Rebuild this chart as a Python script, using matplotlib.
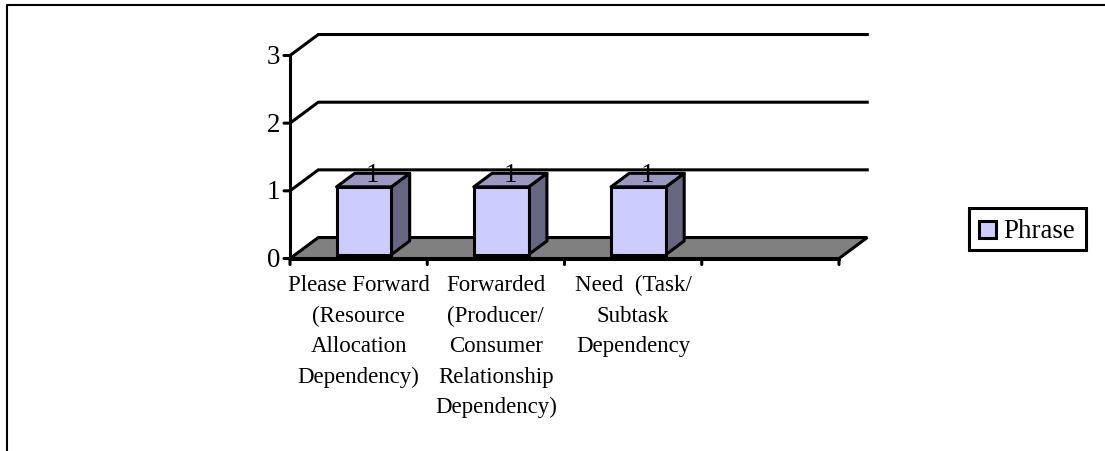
import matplotlib
matplotlib.use("Agg")
import matplotlib.pyplot as plt
from matplotlib.patches import Polygon, Rectangle

plt.rcParams['font.family'] = ['Liberation Serif', 'DejaVu Sans']

categories = [
    "Please Forward\n(Resource\nAllocation\nDependency)",
    "Forwarded\n(Producer/\nConsumer\nRelationship\nDependency)",
    "Need  (Task/\nSubtask\nDependency",
    "",
]
phrase_values = [1, 1, 1]
value_labels = ["1", "1", "1"]
y_ticks = [0, 1, 2, 3]
series_name = "Phrase"

W, H = 1105, 452
LW = 2.2  # thick excel-style lines

# fake 3d: how far the back wall sits from the front, in data units
DX = 0.206
DY = 0.31
BAR_W = 0.4
BAR_FRONT = 0.19
BAR_BACK = 0.835

FLOOR = "#808080"
FRONT = "#CCCCFF"
TOP = "#9999C2"
SIDE = "#666680"


def proj(x, y, depth):
    return x + depth * DX, y + depth * DY


fig = plt.figure(figsize=(W / 100, H / 100), dpi=100)
ax = fig.add_axes([290 / W, 1 - 259.5 / H, 549 / W, 203 / H])
ax.set_xlim(0, len(categories))
ax.set_ylim(0, max(y_ticks))
ax.axis("off")

# floor
n = len(categories)
ax.add_patch(Polygon([proj(0, 0, 0), proj(n, 0, 0), proj(n, 0, 1), proj(0, 0, 1)],
                     closed=True, fc=FLOOR, ec="black", lw=LW, clip_on=False, zorder=1))

# gridlines on back wall and on the left side
for v in y_ticks[1:]:
    ax.plot([0, DX, n + DX], [v, v + DY, v + DY], color="black", lw=LW,
            clip_on=False, zorder=1, solid_joinstyle="miter")

# axes
ax.plot([0, 0], [0, max(y_ticks)], color="black", lw=LW, clip_on=False, zorder=2)
ax.plot([0, n], [0, 0], color="black", lw=LW, clip_on=False, zorder=2)
for v in y_ticks:
    ax.annotate("", xy=(0, v), xytext=(-6, 0), textcoords="offset pixels",
                arrowprops=dict(arrowstyle="-", color="black", lw=LW, shrinkA=0, shrinkB=0))
    ax.annotate(str(v), xy=(0, v), xytext=(-10, -1), textcoords="offset pixels",
                ha="right", va="center", fontsize=19.4)
for i in range(n + 1):
    ax.annotate("", xy=(i, 0), xytext=(0, -6), textcoords="offset pixels",
                arrowprops=dict(arrowstyle="-", color="black", lw=LW, shrinkA=0, shrinkB=0))

# bars
for i, val in enumerate(phrase_values):
    x0 = i + 0.5 - BAR_W / 2
    x1 = i + 0.5 + BAR_W / 2
    a = proj(x0, 0, BAR_FRONT)
    b = proj(x1, 0, BAR_FRONT)
    c = proj(x1, val, BAR_FRONT)
    d = proj(x0, val, BAR_FRONT)
    e = proj(x1, 0, BAR_BACK)
    f = proj(x1, val, BAR_BACK)
    g = proj(x0, val, BAR_BACK)
    ax.add_patch(Polygon([b, e, f, c], closed=True, fc=SIDE, ec="black", lw=LW,
                         clip_on=False, zorder=3, joinstyle="round"))
    ax.add_patch(Polygon([d, c, f, g], closed=True, fc=TOP, ec="black", lw=LW,
                         clip_on=False, zorder=3, joinstyle="round"))
    ax.add_patch(Polygon([a, b, c, d], closed=True, fc=FRONT, ec="black", lw=LW,
                         clip_on=False, zorder=3, joinstyle="miter"))
    lx, ly = proj(i + 0.5, val, 0.5)
    ax.annotate(value_labels[i], xy=(lx, ly), xytext=(0, 6), textcoords="offset pixels",
                ha="center", va="center", fontsize=19.4, zorder=4)

# category labels, line by line so the baselines stay level across categories
for i, lab in enumerate(categories):
    for j, line in enumerate(lab.split("\n")):
        ax.annotate(line, xy=(i + 0.5, 0), xytext=(0, -32 - 30.4 * j), textcoords="offset pixels",
                    ha="center", va="baseline", fontsize=16.5)

# legend
leg_box = Rectangle((969 / W, 1 - 251 / H), 117 / W, 42 / H, transform=fig.transFigure,
                    fc="white", ec="black", lw=LW)
fig.add_artist(leg_box)
leg_sw = Rectangle((979 / W, 1 - 239 / H), 17 / W, 17 / H, transform=fig.transFigure,
                   fc=FRONT, ec="black", lw=LW)
fig.add_artist(leg_sw)
fig.text(1003 / W, 1 - 232 / H, series_name, fontsize=19.4, ha="left", va="center")

# outer frame
fig.add_artist(plt.Line2D([7 / W, 7 / W, 1], [0, 1 - 6 / H, 1 - 6 / H],
                          color="black", lw=1.5, transform=fig.transFigure))

fig.savefig("out.png", dpi=100)
